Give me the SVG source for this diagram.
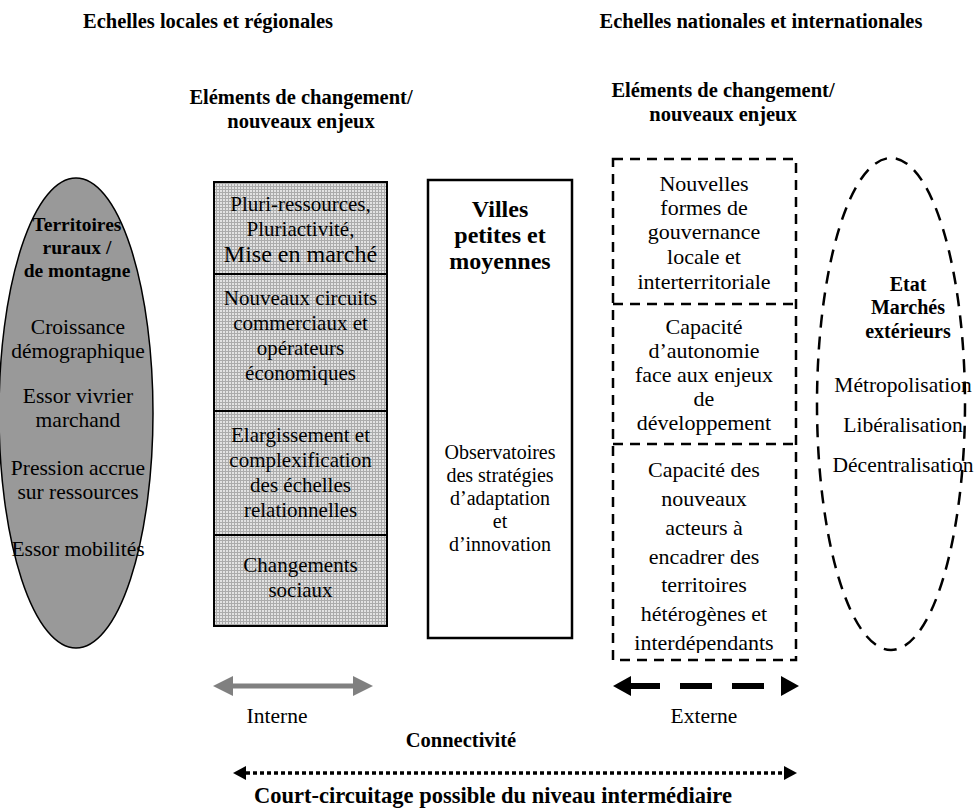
<svg xmlns="http://www.w3.org/2000/svg" width="976" height="809" viewBox="0 0 976 809">
<style>
text{font-family:"Liberation Serif","Times New Roman",serif;fill:#000;text-anchor:middle}
.b{font-weight:bold}
.h{font-size:20.5px;font-weight:bold}
.l{font-size:21.5px}
.g{font-size:21px}
.v{font-size:20px}
.d{font-size:22px}
.r{font-size:21.5px}
.dash{fill:none;stroke:#000;stroke-width:2.5;stroke-dasharray:10 7}
</style>
<defs>
<pattern id="grid" width="3" height="3" patternUnits="userSpaceOnUse">
<rect width="3" height="3" fill="#e2e2e2"/>
<path d="M0 0.5H3M0.5 0V3" stroke="#ababab" stroke-width="1"/>
</pattern>
<clipPath id="clip3"><rect x="614" y="446" width="181" height="207"/></clipPath>
</defs>
<rect width="976" height="809" fill="#fff"/>

<g id="headings">
<text class="h" x="208" y="28">Echelles locales et régionales</text>
<text class="h" x="761" y="28">Echelles nationales et internationales</text>
<text class="h" x="301" y="104">Eléments de changement/</text>
<text class="h" x="301" y="128">nouveaux enjeux</text>
<text class="h" x="723" y="97">Eléments de changement/</text>
<text class="h" x="723" y="121">nouveaux enjeux</text>
</g>

<g id="territoires">
<ellipse cx="76" cy="413" rx="77" ry="235" fill="#999" stroke="#000" stroke-width="1.5"/>
<text class="b" font-size="19.5" x="77" y="231">Territoires</text>
<text class="b" font-size="19.5" x="77" y="254">ruraux /</text>
<text class="b" font-size="19.5" x="77" y="277">de montagne</text>
<text class="l" x="78" y="334">Croissance</text>
<text class="l" x="78" y="358">démographique</text>
<text class="l" x="78" y="403">Essor vivrier</text>
<text class="l" x="78" y="427">marchand</text>
<text class="l" x="78" y="475">Pression accrue</text>
<text class="l" x="78" y="499">sur ressources</text>
<text class="l" x="78" y="556">Essor mobilités</text>
</g>

<g id="elements-locaux">
<rect x="214" y="182" width="173" height="444" fill="url(#grid)" stroke="#000" stroke-width="2"/>
<path d="M214 274H387M214 411H387M214 535H387" stroke="#000" stroke-width="2"/>
<text class="g" x="300.5" y="211">Pluri-ressources,</text>
<text class="g" x="300.5" y="236">Pluriactivité,</text>
<text x="300.5" y="262" font-size="24">Mise en marché</text>
<text class="g" x="300.5" y="305">Nouveaux circuits</text>
<text class="g" x="300.5" y="330">commerciaux et</text>
<text class="g" x="300.5" y="355">opérateurs</text>
<text class="g" x="300.5" y="380">économiques</text>
<text class="g" x="300.5" y="442">Elargissement et</text>
<text class="g" x="300.5" y="467">complexification</text>
<text class="g" x="300.5" y="492">des échelles</text>
<text class="g" x="300.5" y="517">relationnelles</text>
<text class="g" x="300.5" y="572">Changements</text>
<text class="g" x="300.5" y="597">sociaux</text>
</g>

<g id="villes">
<rect x="428" y="180" width="144" height="458" fill="#fff" stroke="#000" stroke-width="2.5"/>
<text class="b" font-size="24" x="500" y="217">Villes</text>
<text class="b" font-size="24" x="500" y="243">petites et</text>
<text class="b" font-size="24" x="500" y="269">moyennes</text>
<text class="v" x="500" y="459">Observatoires</text>
<text class="v" x="500" y="482">des stratégies</text>
<text class="v" x="500" y="505">d’adaptation</text>
<text class="v" x="500" y="528">et</text>
<text class="v" x="500" y="551">d’innovation</text>
</g>

<g id="elements-nationaux">
<rect class="dash" x="613" y="159" width="183" height="501"/>
<path class="dash" d="M613 304H796M613 444H796"/>
<text class="d" x="704" y="191">Nouvelles</text>
<text class="d" x="704" y="215">formes de</text>
<text class="d" x="704" y="239">gouvernance</text>
<text class="d" x="704" y="264">locale et</text>
<text class="d" x="704" y="289">interterritoriale</text>
<text class="d" x="704" y="334">Capacité</text>
<text class="d" x="704" y="358">d’autonomie</text>
<text class="d" x="704" y="382">face aux enjeux</text>
<text class="d" x="704" y="406">de</text>
<text class="d" x="704" y="430">développement</text>
<g clip-path="url(#clip3)">
<text class="d" x="704" y="477">Capacité des</text>
<text class="d" x="704" y="506">nouveaux</text>
<text class="d" x="704" y="535">acteurs à</text>
<text class="d" x="704" y="564">encadrer des</text>
<text class="d" x="704" y="592">territoires</text>
<text class="d" x="704" y="621">hétérogènes et</text>
<text class="d" x="704" y="650">interdépendants</text>
</g>
</g>

<g id="etat">
<ellipse cx="891" cy="404" rx="74" ry="246" fill="none" stroke="#000" stroke-width="2.5" stroke-dasharray="13 9"/>
<text class="b" font-size="20" x="908" y="291">Etat</text>
<text class="b" font-size="20" x="908" y="314">Marchés</text>
<text class="b" font-size="20" x="908" y="338">extérieurs</text>
<text class="r" x="903" y="392">Métropolisation</text>
<text class="r" x="903" y="432">Libéralisation</text>
<text class="r" x="903" y="472">Décentralisation</text>
</g>

<g id="connectors">
<rect x="231" y="683.5" width="124" height="5" fill="#808080"/>
<polygon points="213,686 233,676 233,696" fill="#808080"/>
<polygon points="373,686 353,676 353,696" fill="#808080"/>
<polygon points="613,686 631,676 631,696" fill="#000"/>
<line x1="628" y1="686" x2="784" y2="686" stroke="#000" stroke-width="6" stroke-dasharray="32 20"/>
<polygon points="799,686 781,676 781,696" fill="#000"/>
<polygon points="233,773 246,766 246,780" fill="#000"/>
<line x1="246" y1="773" x2="784" y2="773" stroke="#000" stroke-width="3.5" stroke-dasharray="4 3"/>
<polygon points="797,773 784,766 784,780" fill="#000"/>
</g>

<g id="labels">
<text class="r" x="277" y="723">Interne</text>
<text class="r" x="704" y="723">Externe</text>
<text class="h" x="461" y="747">Connectivité</text>
<text x="493" y="803" font-size="22.5" font-weight="bold">Court-circuitage possible du niveau intermédiaire</text>
</g>
</svg>
